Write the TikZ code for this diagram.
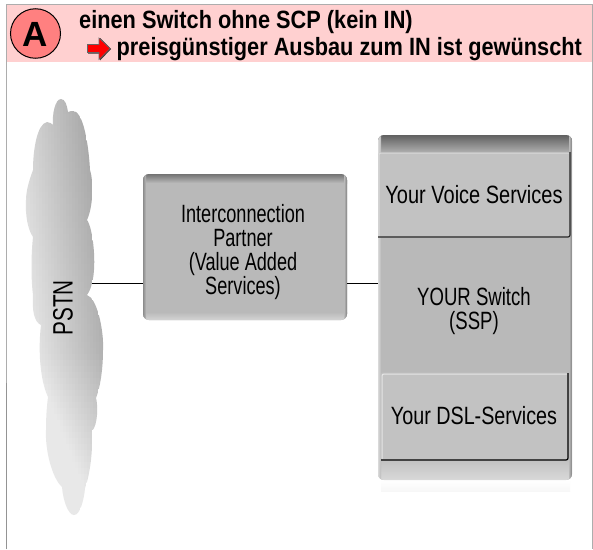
\documentclass[tikz,border=0pt]{standalone}
\usepackage{fontspec}
\setmainfont{Liberation Sans}
\usetikzlibrary{shapes.geometric}
\definecolor{bodyg}{gray}{0.725}
\definecolor{innerg}{gray}{0.76}
\definecolor{pinkband}{RGB}{255,208,208}
\definecolor{badge}{RGB}{255,128,128}
\tikzset{
  x=1pt,y=-1pt,
  lbltext/.style={inner sep=0,align=center,font=\fontsize{25}{24}\selectfont,text=black},
  head/.style={inner sep=0,anchor=base west,xscale=.87,font=\fontsize{25}{25}\selectfont\bfseries},
  boxbody/.style={fill=bodyg,rounded corners=6pt,inner sep=0,outer sep=0},
  innerbox/.style={fill=innerg,rounded corners=2pt,inner sep=0,outer sep=0},
  wire/.style={draw=black,line width=1pt},
}
\begin{document}
\begin{tikzpicture}
\useasboundingbox (0,0) rectangle (593,549);
\fill[white] (0,0) rectangle (593,549);
% page frame
\fill[pinkband] (7,5) rectangle (592,62);
\draw[black!32,line width=1.6pt] (6.5,549) -- (6.5,4.5) -- (592.5,4.5) -- (592.5,549);
\draw[black!42,line width=1.6pt] (6.5,549) -- (6.5,383);
% heading
\node[ellipse,draw=black,line width=1pt,fill=badge,minimum width=50pt,minimum height=49.5pt,inner sep=0] (badgeA) at (35.5,33.5) {};
\node[inner sep=0,font=\fontsize{35}{35}\selectfont\bfseries,anchor=base] (letterA) at (35.2,46) {A};
\node[head] (line1) at (79,28) {einen Switch ohne SCP (kein IN)};
\node[head] (line2) at (116.5,55) {preisgünstiger Ausbau zum IN ist gewünscht};
\fill[black!80] (88,45.5) -- (100,45.5) -- (100,38) -- (111,49) -- (100,60.5) -- (100,53.5) -- (88,53.5) -- cycle;
\fill[red,draw=black!60,line width=.6pt] (87.5,44.5) -- (99,44.5) -- (99,38) -- (110,48.5) -- (99,59.5) -- (99,52.5) -- (87.5,52.5) -- cycle;
% cloud
\begin{scope}
\clip (61,99) .. controls (65,99) and (67,105) .. (68,112)
 .. controls (72,110) and (76,111) .. (78,114)
 .. controls (85,122) and (89,150) .. (90,170)
 .. controls (93,178) and (94,205) .. (87,220)
 .. controls (93,228) and (97,265) .. (92,283)
 .. controls (91,288) and (89,292) .. (87,295)
 .. controls (97,298) and (104,330) .. (103,350)
 .. controls (103,370) and (100,388) .. (96,398)
 .. controls (98,405) and (98,425) .. (92,431)
 .. controls (93,450) and (90,475) .. (85,488)
 .. controls (84,500) and (80,515) .. (74,515)
 .. controls (68,515) and (63,500) .. (62,487)
 .. controls (52,478) and (45,450) .. (46,430)
 .. controls (46,415) and (47,405) .. (48,397)
 .. controls (40,380) and (38,350) .. (41,325)
 .. controls (34,322) and (32,310) .. (33,295)
 .. controls (31,280) and (31,255) .. (33,237)
 .. controls (28,230) and (25,215) .. (26,200)
 .. controls (26,190) and (30,178) .. (33,170)
 .. controls (33,150) and (37,124) .. (47,122)
 .. controls (50,122) and (52,124) .. (53,125)
 .. controls (52,115) and (55,99) .. (61,99) -- cycle;
\foreach \cx in {24,27,...,104}{
  \foreach \cy in {96,102,...,516}{
    \pgfmathsetmacro{\fy}{\cy<350 ? (\cy-350)*0.09 : (\cy-350)*0.3}
    \pgfmathtruncatemacro{\gv}{max(170,min(232,224-0.75*(\cx-40)+\fy))}
    \fill[fill={rgb,255:red,\gv;green,\gv;blue,\gv}] (\cx,\cy) rectangle (\cx+3.4,\cy+6.4);
  }
}
\end{scope}
\coordinate (cloudE) at (92,283.5);
\node[lbltext,rotate=90,xscale=.74,font=\fontsize{28}{28}\selectfont] (pstn) at (63,308) {PSTN};
% partner box
\node[boxbody,minimum width=204pt,minimum height=146pt] (partner) at (245,247) {};
\begin{scope}
\clip[rounded corners=6pt] (143,174) rectangle (347,320);
\shade[top color=black!55,bottom color=bodyg] (143,174) rectangle (347,183);
\shade[top color=bodyg,bottom color=black!17] (143,312) rectangle (347,320);
\shade[left color=black!45,right color=bodyg] (143,174) rectangle (146,320);
\shade[left color=bodyg,right color=black!50] (344,174) rectangle (347,320);
\end{scope}
\node[lbltext,xscale=.725] (partnertext) at (243,252) {Interconnection\\Partner\\(Value Added\\Services)};
% switch box
\node[boxbody,minimum width=194pt,minimum height=345pt] (switch) at (475,307.5) {};
\shade[top color=white,bottom color=black!3] (381,480) rectangle (570,491);
\begin{scope}
\clip[rounded corners=6pt] (378,135) rectangle (572,480);
\shade[top color=black!62,bottom color=black!32] (378,135) rectangle (572,152);
\shade[top color=black!24,bottom color=black!15] (378,460) rectangle (572,480);
\shade[left color=black!15,right color=bodyg] (378,135) rectangle (381,480);
\shade[left color=bodyg,right color=black!50] (569,135) rectangle (572,480);
\end{scope}
\node[innerbox,minimum width=191pt,minimum height=85pt] (voice) at (474,195) {};
\draw[white!85!black,line width=1pt,rounded corners=2pt] (379,237) -- (379,153) -- (569,153);
\draw[black!85,line width=1.2pt,rounded corners=2pt] (570,152) -- (570,237) -- (378,237);
\node[lbltext,xscale=.80] (voicetext) at (474,195) {Your Voice Services};
\node[lbltext,xscale=.743] (switchtext) at (474,311) {YOUR Switch\\(SSP)};
\node[innerbox,minimum width=187pt,minimum height=87pt] (dsl) at (474.5,416) {};
\draw[white!90!black,line width=1pt,rounded corners=2pt] (382,459) -- (382,374) -- (567,374);
\draw[black,line width=1.2pt,rounded corners=2pt] (568,373) -- (568,460) -- (381,460);
\node[lbltext,xscale=.79] (dsltext) at (474,416) {Your DSL-Services};
% connectors
\draw[wire] (cloudE) -- (cloudE -| partner.west);
\draw[wire] (cloudE -| partner.east) -- (cloudE -| switch.west);
\end{tikzpicture}
\end{document}
